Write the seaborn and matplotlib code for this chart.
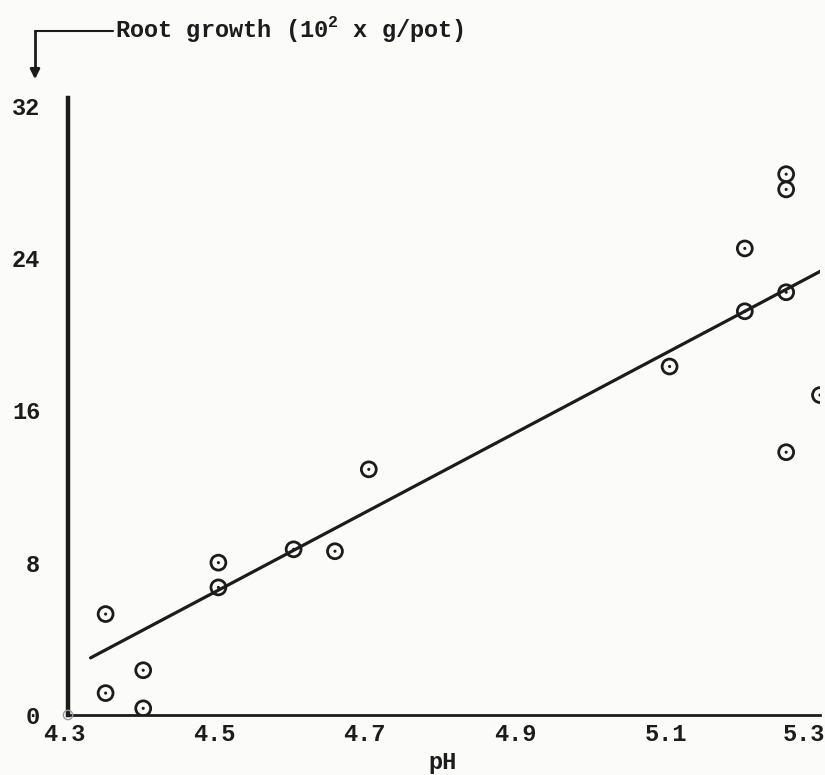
import matplotlib
matplotlib.use("Agg")
import matplotlib.pyplot as plt
import matplotlib.transforms as mtrans
import seaborn as sns
import pandas as pd

# Data
ph = [4.35, 4.35, 4.40, 4.40, 4.50, 4.50, 4.60, 4.655, 4.70,
      5.10, 5.20, 5.20, 5.255, 5.255, 5.255, 5.255, 5.30]
root = [5.3, 1.15, 2.35, 0.35, 8.0, 6.7, 8.7, 8.6, 12.9,
        18.3, 24.5, 21.2, 28.4, 27.6, 22.2, 13.8, 16.8]
fit_ph = [4.33, 5.31]
fit_root = [3.0, 23.5]
x_ticks = [4.3, 4.5, 4.7, 4.9, 5.1, 5.3]
x_labels = ["4.3", "4.5", "4.7", "4.9", "5.1", "5.3"]
y_ticks = [0, 8, 16, 24, 32]
y_labels = ["0", "8", "16", "24", "32"]

sns.set_style("white")
plt.rcParams["font.family"] = ["Liberation Mono", "DejaVu Sans Mono"]
plt.rcParams["mathtext.fontset"] = "custom"
plt.rcParams["mathtext.rm"] = "Liberation Mono:bold"
ink = "#1c1c1c"
fs = 17

df = pd.DataFrame({"pH": ph, "root": root})
fit = pd.DataFrame({"pH": fit_ph, "root": fit_root})

fig = plt.figure(figsize=(8.25, 7.75), dpi=100, facecolor="#fbfbfa")
ax = fig.add_axes([68 / 825, 1 - 715 / 775, 752 / 825, 617 / 775])
ax.set_facecolor("#fbfbfa")

sns.lineplot(data=fit, x="pH", y="root", ax=ax, color=ink, lw=2.3)
sns.scatterplot(data=df, x="pH", y="root", ax=ax, marker="o", s=115,
                facecolor="none", edgecolor=ink, linewidth=2.0, zorder=3)
sns.scatterplot(data=df, x="pH", y="root", ax=ax, marker="o", s=5,
                color=ink, edgecolor="none", zorder=4)
ax.scatter([4.3], [0], s=45, facecolor="none", edgecolor="#999999",
           linewidth=1, zorder=4, clip_on=False)

ax.set_xlim(4.3, 5.3)
ax.set_ylim(0, 32.4)
ax.set_xticks(x_ticks)
ax.set_xticklabels(x_labels)
ax.set_yticks(y_ticks)
ax.set_yticklabels(y_labels)
ax.tick_params(axis="both", direction="in", length=3, width=1.2, colors=ink,
               labelsize=fs, labelcolor=ink)
ax.tick_params(axis="x", pad=6)
ax.tick_params(axis="y", pad=20)
for lab in ax.get_xticklabels() + ax.get_yticklabels():
    lab.set_fontweight("bold")
for lab in ax.get_xticklabels():
    lab.set_transform(lab.get_transform() +
                      mtrans.ScaledTranslation(-4 / 100, 0, fig.dpi_scale_trans))
last = ax.get_xticklabels()[-1]
last.set_transform(last.get_transform() +
                   mtrans.ScaledTranslation(-12 / 100, 0, fig.dpi_scale_trans))

for s in ["top", "right"]:
    ax.spines[s].set_visible(False)
ax.spines["left"].set_linewidth(3.2)
ax.spines["left"].set_color(ink)
ax.spines["bottom"].set_linewidth(2.0)
ax.spines["bottom"].set_color(ink)

ax.set_xlabel("pH", fontsize=fs, fontweight="bold", color=ink, labelpad=0)
ax.xaxis.set_label_coords((442 - 68) / 752, -0.058)
ax.set_ylabel("")

fig.text(115 / 825, 1 - 29 / 775, "Root growth (10$^{2}$ x g/pot)",
         fontsize=fs, fontweight="bold", color=ink, va="center", ha="left")
fig.add_artist(plt.Line2D([35 / 825, 113 / 825], [1 - 31 / 775, 1 - 31 / 775],
                          color=ink, lw=1.5))
fig.add_artist(plt.Line2D([35 / 825, 35 / 825], [1 - 31 / 775, 1 - 70 / 775],
                          color=ink, lw=2))
ax.annotate("", xy=(35 / 825, 1 - 82 / 775), xycoords="figure fraction",
            xytext=(35 / 825, 1 - 66 / 775), textcoords="figure fraction",
            arrowprops=dict(arrowstyle="-|>", color=ink, lw=2,
                            mutation_scale=14))

fig.savefig("out.png", dpi=100, facecolor=fig.get_facecolor())
